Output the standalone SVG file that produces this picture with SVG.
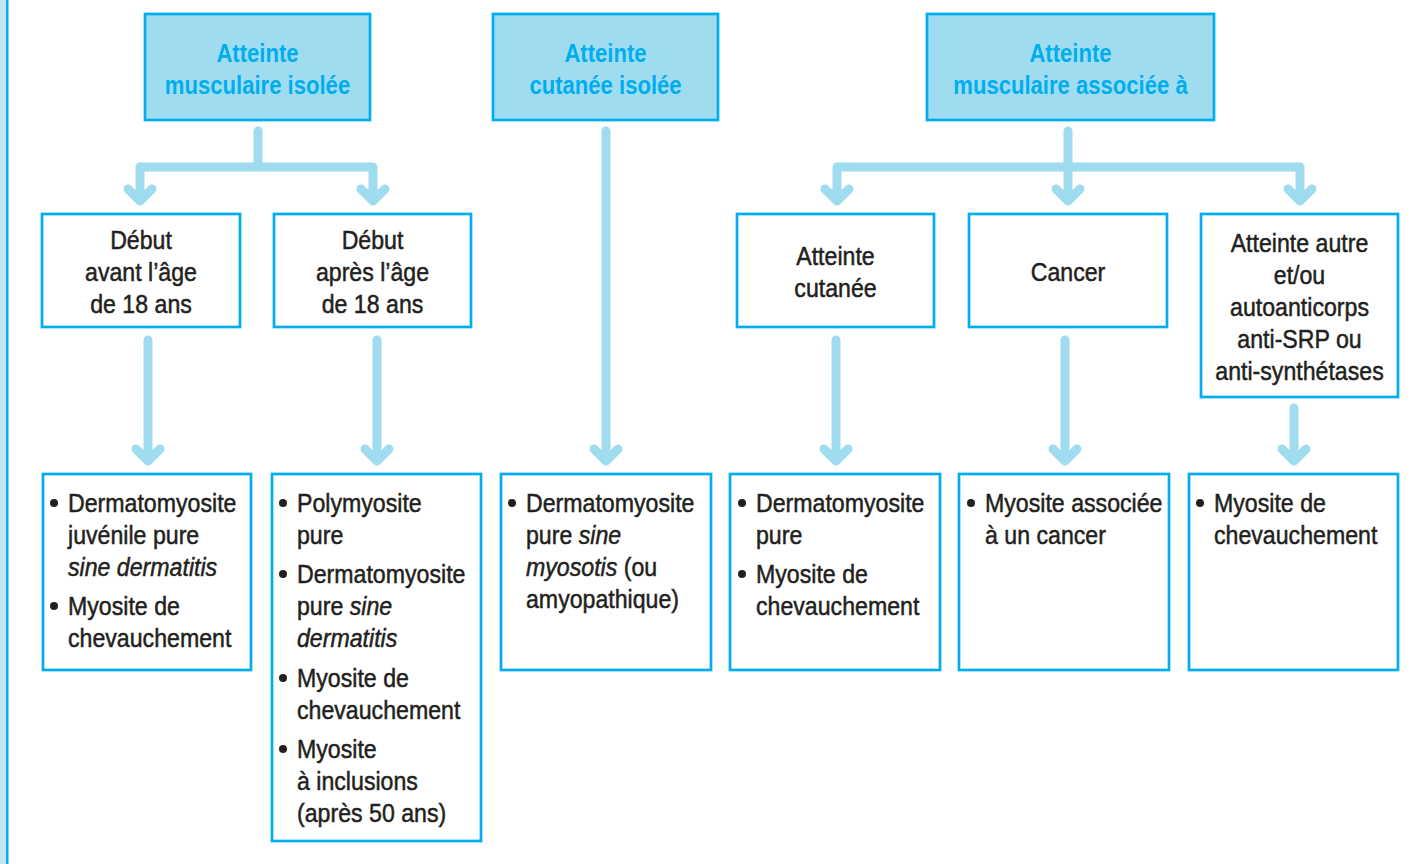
<svg xmlns="http://www.w3.org/2000/svg" width="1423" height="864" viewBox="0 0 1423 864">
<style>
.hb{fill:#a0dcef;stroke:#00aeef;stroke-width:2.7}
.bx{fill:#ffffff;stroke:#00aeef;stroke-width:2.7}
.ht{font-family:"Liberation Sans",Arial,sans-serif;font-weight:bold;font-size:26px;fill:#00aeef;text-anchor:middle}
.t{font-family:"Liberation Sans",Arial,sans-serif;font-size:26px;fill:#231f20;stroke:#231f20;stroke-width:0.5}
.c{text-anchor:middle}
.i{font-style:italic}
.bu{fill:#231f20}
.cn{fill:none;stroke:#a0dcef;stroke-width:9;stroke-linecap:round;stroke-linejoin:round}
</style>
<rect width="1423" height="864" fill="#ffffff"/>
<g id="margin">
<rect x="0" y="0" width="6" height="864" fill="#bfe6f5"/>
<rect x="6" y="0" width="2.5" height="864" fill="#00aeef"/>
</g>
<g id="connectors">
<path class="cn" d="M258,131 V167 M140,201 V167 H373 V201 M128,189 L140,201 L152,189 M361,189 L373,201 L385,189"/>
<path class="cn" d="M606,131 V461 M594,449 L606,461 L618,449"/>
<path class="cn" d="M1068,131 V201 M837,201 V167 H1300 V201 M825,189 L837,201 L849,189 M1056,189 L1068,201 L1080,189 M1288,189 L1300,201 L1312,189"/>
<path class="cn" d="M148,340 V461 M136,449 L148,461 L160,449"/>
<path class="cn" d="M377,340 V461 M365,449 L377,461 L389,449"/>
<path class="cn" d="M836,340 V461 M824,449 L836,461 L848,449"/>
<path class="cn" d="M1065,340 V461 M1053,449 L1065,461 L1077,449"/>
<path class="cn" d="M1294,408 V461 M1282,449 L1294,461 L1306,449"/>
</g>
<g id="h1">
<rect class="hb" x="145" y="14" width="225" height="106"/>
<g transform="translate(257.5,0) scale(0.85,1)"><text class="ht"><tspan x="0" y="62">Atteinte</tspan><tspan x="0" y="94">musculaire isolée</tspan></text></g>
</g>
<g id="h2">
<rect class="hb" x="493" y="14" width="225" height="106"/>
<g transform="translate(605.5,0) scale(0.85,1)"><text class="ht"><tspan x="0" y="62">Atteinte</tspan><tspan x="0" y="94">cutanée isolée</tspan></text></g>
</g>
<g id="h3">
<rect class="hb" x="927" y="14" width="287" height="106"/>
<g transform="translate(1070.5,0) scale(0.85,1)"><text class="ht"><tspan x="0" y="62">Atteinte</tspan><tspan x="0" y="94">musculaire associée à</tspan></text></g>
</g>
<g id="m1">
<rect class="bx" x="42" y="214" width="198" height="113"/>
<g transform="translate(141,0) scale(0.89,1)"><text class="t c"><tspan x="0" y="249">Début</tspan><tspan x="0" y="281">avant l’âge</tspan><tspan x="0" y="313">de 18 ans</tspan></text></g>
</g>
<g id="m2">
<rect class="bx" x="274" y="214" width="197" height="113"/>
<g transform="translate(372.5,0) scale(0.89,1)"><text class="t c"><tspan x="0" y="249">Début</tspan><tspan x="0" y="281">après l’âge</tspan><tspan x="0" y="313">de 18 ans</tspan></text></g>
</g>
<g id="m3">
<rect class="bx" x="737" y="214" width="197" height="113"/>
<g transform="translate(835.5,0) scale(0.89,1)"><text class="t c"><tspan x="0" y="265">Atteinte</tspan><tspan x="0" y="297">cutanée</tspan></text></g>
</g>
<g id="m4">
<rect class="bx" x="969" y="214" width="198" height="113"/>
<g transform="translate(1068,0) scale(0.89,1)"><text class="t c"><tspan x="0" y="281">Cancer</tspan></text></g>
</g>
<g id="m5">
<rect class="bx" x="1201" y="214" width="197" height="183"/>
<g transform="translate(1299.5,0) scale(0.89,1)"><text class="t c"><tspan x="0" y="252">Atteinte autre</tspan><tspan x="0" y="284">et/ou</tspan><tspan x="0" y="316">autoanticorps</tspan><tspan x="0" y="348">anti-SRP ou</tspan><tspan x="0" y="380">anti-synthétases</tspan></text></g>
</g>
<g id="b1">
<rect class="bx" x="43" y="474" width="208" height="196"/>
<circle class="bu" cx="54" cy="503" r="4"/><circle class="bu" cx="54" cy="606" r="4"/>
<g transform="translate(68,0) scale(0.89,1)"><text class="t"><tspan x="0" y="512">Dermatomyosite</tspan><tspan x="0" y="544">juvénile pure</tspan><tspan x="0" y="576" class="i">sine dermatitis</tspan><tspan x="0" y="615">Myosite de</tspan><tspan x="0" y="647">chevauchement</tspan></text></g>
</g>
<g id="b2">
<rect class="bx" x="272" y="474" width="209" height="367"/>
<circle class="bu" cx="283" cy="503" r="4"/><circle class="bu" cx="283" cy="574" r="4"/><circle class="bu" cx="283" cy="678" r="4"/><circle class="bu" cx="283" cy="749" r="4"/>
<g transform="translate(297,0) scale(0.89,1)"><text class="t"><tspan x="0" y="512">Polymyosite</tspan><tspan x="0" y="544">pure</tspan><tspan x="0" y="583">Dermatomyosite</tspan><tspan x="0" y="615">pure <tspan class="i">sine</tspan></tspan><tspan x="0" y="647" class="i">dermatitis</tspan><tspan x="0" y="687">Myosite de</tspan><tspan x="0" y="719">chevauchement</tspan><tspan x="0" y="758">Myosite</tspan><tspan x="0" y="790">à inclusions</tspan><tspan x="0" y="822">(après 50 ans)</tspan></text></g>
</g>
<g id="b3">
<rect class="bx" x="501" y="474" width="210" height="196"/>
<circle class="bu" cx="512" cy="503" r="4"/>
<g transform="translate(526,0) scale(0.89,1)"><text class="t"><tspan x="0" y="512">Dermatomyosite</tspan><tspan x="0" y="544">pure <tspan class="i">sine</tspan></tspan><tspan x="0" y="576"><tspan class="i">myosotis</tspan> (ou</tspan><tspan x="0" y="608">amyopathique)</tspan></text></g>
</g>
<g id="b4">
<rect class="bx" x="730" y="474" width="210" height="196"/>
<circle class="bu" cx="742" cy="503" r="4"/><circle class="bu" cx="742" cy="574" r="4"/>
<g transform="translate(756,0) scale(0.89,1)"><text class="t"><tspan x="0" y="512">Dermatomyosite</tspan><tspan x="0" y="544">pure</tspan><tspan x="0" y="583">Myosite de</tspan><tspan x="0" y="615">chevauchement</tspan></text></g>
</g>
<g id="b5">
<rect class="bx" x="959" y="474" width="210" height="196"/>
<circle class="bu" cx="971" cy="503" r="4"/>
<g transform="translate(985,0) scale(0.89,1)"><text class="t"><tspan x="0" y="512">Myosite associée</tspan><tspan x="0" y="544">à un cancer</tspan></text></g>
</g>
<g id="b6">
<rect class="bx" x="1189" y="474" width="209" height="196"/>
<circle class="bu" cx="1200" cy="503" r="4"/>
<g transform="translate(1214,0) scale(0.89,1)"><text class="t"><tspan x="0" y="512">Myosite de</tspan><tspan x="0" y="544">chevauchement</tspan></text></g>
</g>
</svg>
